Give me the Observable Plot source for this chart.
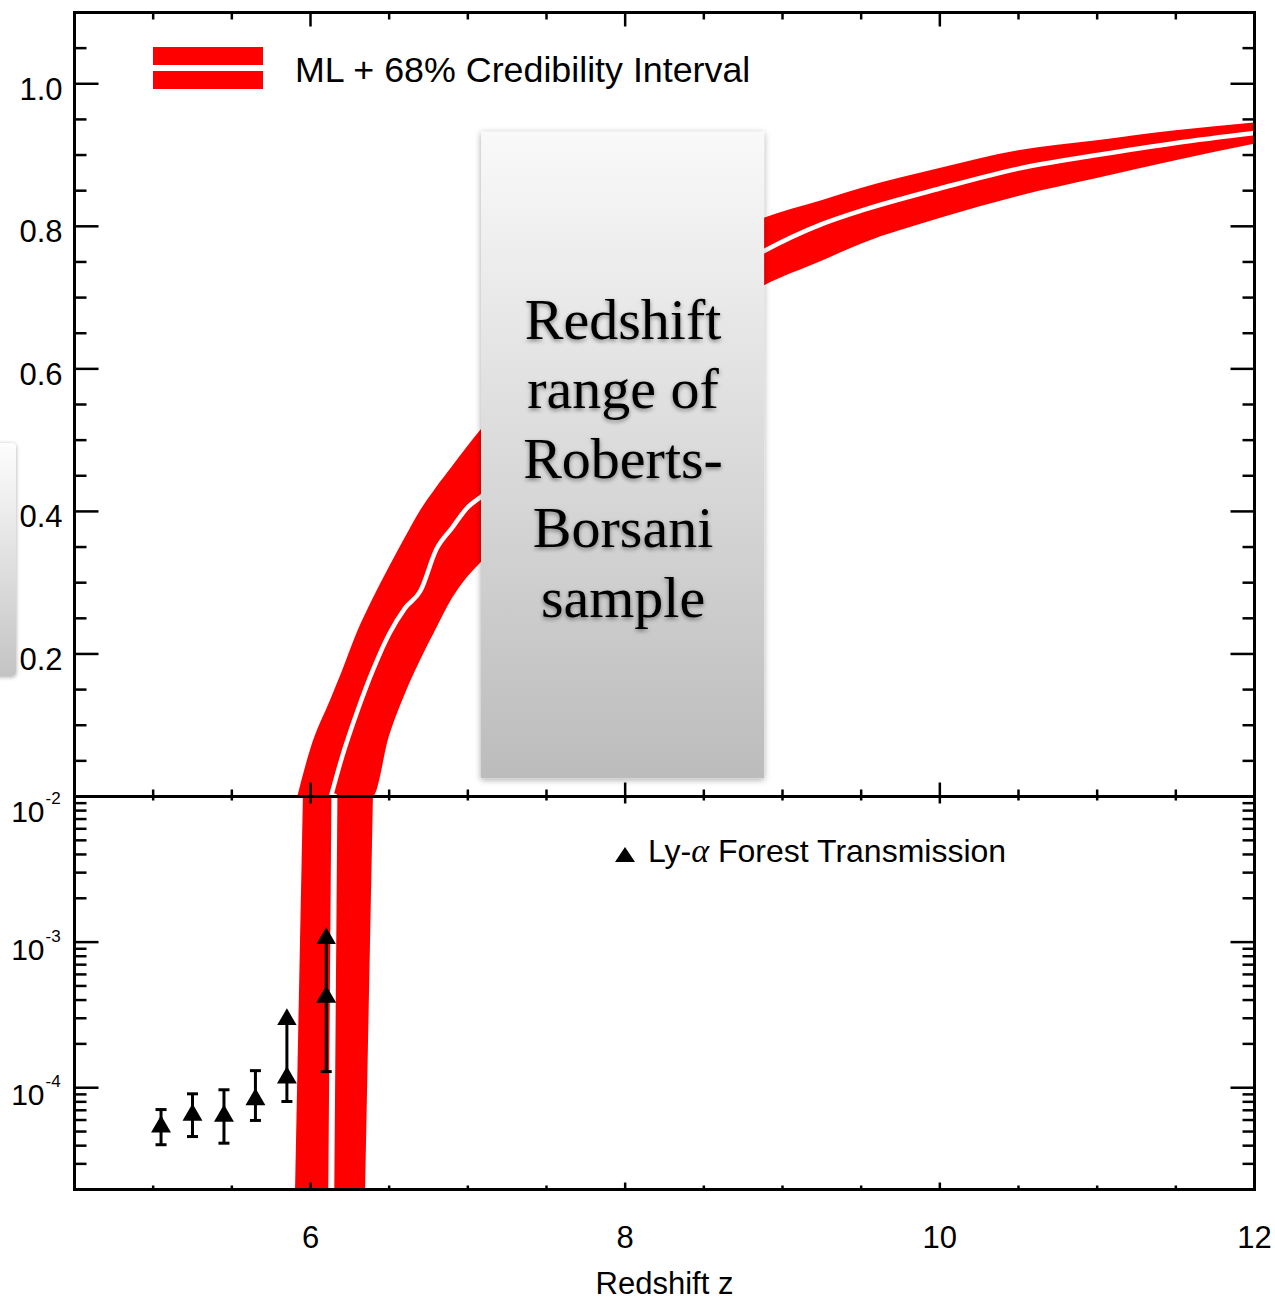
<!DOCTYPE html>
<html>
<head>
<meta charset="utf-8">
<script src="https://cdn.jsdelivr.net/npm/d3@7"></script>
<script src="https://cdn.jsdelivr.net/npm/@observablehq/plot@0.6"></script>
<style>
  html, body { margin: 0; padding: 0; background: #fff; }
  #fig { position: relative; width: 1275px; height: 1299px; overflow: hidden;
         font-family: "Liberation Sans", Arial, Helvetica, sans-serif; }
  #fig svg { position: absolute; left: 0; }
  .edge-card { position: absolute; left: -300px; top: 443px; width: 316px; height: 233px;
               border-radius: 4px; background: linear-gradient(#fdfdfd, #c4c4c4);
               box-shadow: 0 1px 4px rgba(0,0,0,0.35); }
</style>
</head>
<body>
<div id="fig"><div class="edge-card"></div></div>
<script>
// ---- Neutral fraction x_HI(z): maximum likelihood and 68% credibility band (linear panel)
const zGrid    = [5.92, 6.0, 6.13, 6.2, 6.3, 6.4, 6.5, 6.6, 6.7, 6.8, 6.9, 7.0, 7.08, 8.88, 9.25, 9.5, 10, 10.5, 11, 11.5, 12];
const xhiUpper = [0, 0.065, 0.136, 0.174, 0.231, 0.278, 0.321, 0.362, 0.401, 0.433, 0.462, 0.491, 0.513, 0.811, 0.836, 0.853, 0.881, 0.906, 0.920, 0.934, 0.945];
const xhiML    = [null, null, 0, 0.055, 0.121, 0.179, 0.228, 0.264, 0.289, 0.347, 0.377, 0.406, 0.420, 0.765, 0.803, 0.822, 0.853, 0.881, 0.900, 0.917, 0.931];
const xhiLower = [0, 0, 0, 0, 0, 0, 0.083, 0.142, 0.191, 0.235, 0.277, 0.308, 0.327, 0.716, 0.751, 0.775, 0.811, 0.842, 0.867, 0.892, 0.915];

// ---- Same band in the logarithmic panel: redshift of each edge at given x_HI levels
const logLevels  = [1e-2, 2e-5];
const zEdgeUpper = [5.955, 5.905];
const zEdgeML    = [6.152, 6.132];
const zEdgeLower = [6.40, 6.35];

// ---- Ly-alpha forest transmission constraints
const lyaZ       = [5.05, 5.25, 5.45, 5.65, 5.85, 6.10];
const lyaValue   = [5.4e-5, 6.5e-5, 6.4e-5, 8.3e-5, 1.17e-4, 4.2e-4];
const lyaLow     = [4.06e-5, 4.62e-5, 4.16e-5, 5.96e-5, 8.04e-5, 1.29e-4];
const lyaHigh    = [7.08e-5, 9.08e-5, 9.68e-5, 1.31e-4, 2.94e-4, 1.06e-3];
const lyaHighIsArrow = [false, false, false, false, true, true];

// ---- Redshift range of the Roberts-Borsani sample (annotation card)
const cardZ = [7.087, 8.886];
const cardV = [0.025, 0.932];
const cardLabel = "Redshift\nrange of\nRoberts-\nBorsani\nsample";

// ---- Axes
const zDomain   = [4.5, 12];
const linDomain = [0, 1.1];
const logDomain = [2e-5, 1e-2];
const zMajor   = [6, 8, 10, 12];
const zMinor   = [5, 5.5, 6.5, 7, 7.5, 8.5, 9, 9.5, 10.5, 11, 11.5];
const linMajor = [0.2, 0.4, 0.6, 0.8, 1.0];
const linMinor = [0.05, 0.1, 0.15, 0.25, 0.3, 0.35, 0.45, 0.5, 0.55, 0.65, 0.7, 0.75, 0.85, 0.9, 0.95, 1.05];
const logMajor = [1e-4, 1e-3, 1e-2];
const logMinor = [3e-5, 4e-5, 5e-5, 6e-5, 7e-5, 8e-5, 9e-5,
                  2e-4, 3e-4, 4e-4, 5e-4, 6e-4, 7e-4, 8e-4, 9e-4,
                  2e-3, 3e-3, 4e-3, 5e-3, 6e-3, 7e-3, 8e-3, 9e-3];

const xLabel = "Redshift z";
const bandLegend = "ML + 68% Credibility Interval";

// -------------------------------------------------------------------------
const W = 1275;
const sans = '"Liberation Sans", Arial, Helvetica, sans-serif';
const RED = "#ff0000";

// short inward tick drawn as a custom dot symbol
const stub = (dx, dy) => ({draw(ctx) { ctx.moveTo(0, 0); ctx.lineTo(dx, dy); }});
const cap = {draw(ctx) { ctx.moveTo(-5.5, 0); ctx.lineTo(5.5, 0); }};
const tickStyle = {r: 1, fill: "none", stroke: "black", strokeWidth: 2.5};

function yTicks(values, len) {
  return [
    Plot.dot(values, {y: d => d, frameAnchor: "left", symbol: stub(len, 0), ...tickStyle}),
    Plot.dot(values, {y: d => d, frameAnchor: "right", symbol: stub(-len, 0), ...tickStyle})
  ];
}
function xTicks(values, len) {
  return [
    Plot.dot(values, {x: d => d, frameAnchor: "top", symbol: stub(0, len), ...tickStyle}),
    Plot.dot(values, {x: d => d, frameAnchor: "bottom", symbol: stub(0, -len), ...tickStyle})
  ];
}

// ---------------- upper (linear) panel ----------------
const topRows = zGrid.map((z, i) => ({z, upper: xhiUpper[i], ml: xhiML[i], lower: xhiLower[i]}));
const cardRows = [{z1: cardZ[0], z2: cardZ[1], v1: cardV[0], v2: cardV[1], label: cardLabel}];

const topPlot = Plot.plot({
  width: W, height: 797,
  marginTop: 12, marginBottom: 1, marginLeft: 74, marginRight: 21,
  style: {background: "transparent", fontFamily: sans, overflow: "visible"},
  x: {domain: zDomain, axis: null},
  y: {domain: linDomain, axis: null},
  marks: [
    Plot.areaY(topRows, {x: "z", y1: "lower", y2: "upper", fill: RED, curve: "monotone-x"}),
    Plot.line(topRows.filter(d => d.ml != null), {x: "z", y: "ml", stroke: "white", strokeWidth: 4.5, curve: "monotone-x"}),
    Plot.rect(cardRows, {x1: "z1", x2: "z2", y1: "v1", y2: "v2", fill: "url(#cardFill)"}),
    Plot.text(cardRows, {
      x: d => (d.z1 + d.z2) / 2, y: d => (d.v1 + d.v2) / 2, text: "label",
      fontFamily: '"Liberation Serif", "Times New Roman", serif', fontSize: 58,
      lineHeight: 1.2, fill: "black"
    }),
    ...yTicks(linMinor, 12),
    ...yTicks(linMajor, 24),
    ...xTicks(zMinor, 7),
    ...xTicks(zMajor, 14),
    Plot.text(linMajor, {y: d => d, frameAnchor: "left", dx: -12, dy: 6, textAnchor: "end",
                         text: d => d.toFixed(1), fontSize: 31, fill: "black"}),
    Plot.frame({stroke: "black", strokeWidth: 3})
  ]
});
topPlot.style.top = "0px";

// ---------------- lower (logarithmic) panel ----------------
const lowRows = logLevels.map((v, i) => ({v, upper: zEdgeUpper[i], ml: zEdgeML[i], lower: zEdgeLower[i]}));
const lya = lyaZ.map((z, i) => ({z, t: lyaValue[i], lo: lyaLow[i], hi: lyaHigh[i], arrow: lyaHighIsArrow[i]}));
const topDecade = logMajor.filter(v => v === logDomain[1]);
const innerDecades = logMajor.filter(v => v !== logDomain[1]);
const expText = d => String(Math.round(Math.log10(d)));
const mantissa = {frameAnchor: "left", dx: -30, textAnchor: "end", text: () => "10", fontSize: 30, fill: "black"};
const exponent = {frameAnchor: "left", dx: -29, textAnchor: "start", text: expText, fontSize: 17, fill: "black"};

const lowPlot = Plot.plot({
  width: W, height: 513,
  marginTop: 10, marginBottom: 110, marginLeft: 74, marginRight: 21,
  style: {background: "transparent", fontFamily: sans, overflow: "visible"},
  x: {domain: zDomain, axis: null},
  y: {type: "log", domain: logDomain, axis: null},
  marks: [
    Plot.areaX(lowRows, {y: "v", x1: "upper", x2: "lower", fill: RED}),
    Plot.line(lowRows, {y: "v", x: "ml", stroke: "white", strokeWidth: 6}),
    Plot.ruleX(lya, {x: "z", y1: "lo", y2: "hi", stroke: "black", strokeWidth: 3}),
    Plot.dot(lya, {x: "z", y: "lo", symbol: cap, r: 1, fill: "none", stroke: "black", strokeWidth: 3}),
    Plot.dot(lya.filter(d => !d.arrow), {x: "z", y: "hi", symbol: cap, r: 1, fill: "none", stroke: "black", strokeWidth: 3}),
    Plot.dot(lya.filter(d => d.arrow), {x: "z", y: "hi", symbol: "triangle", r: 7.2, fill: "black"}),
    Plot.dot(lya, {x: "z", y: "t", symbol: "triangle", r: 7.4, fill: "black"}),
    ...yTicks(logMinor, 12),
    ...yTicks(logMajor, 24),
    ...xTicks(zMinor, 4),
    ...xTicks(zMajor, 7),
    Plot.text(innerDecades, {y: d => d, dy: 8, ...mantissa}),
    Plot.text(innerDecades, {y: d => d, dy: -6, ...exponent}),
    Plot.text(topDecade, {y: d => d, dy: 16, ...mantissa}),
    Plot.text(topDecade, {y: d => d, dy: 2, ...exponent}),
    Plot.text(zMajor, {x: d => d, frameAnchor: "bottom", dy: 58, text: d => String(d), fontSize: 31, fill: "black"}),
    Plot.text([xLabel], {frameAnchor: "bottom", dy: 104, text: d => d, fontSize: 31, fill: "black"}),
    Plot.frame({stroke: "black", strokeWidth: 3})
  ]
});
lowPlot.style.top = "786px";

const fig = document.getElementById("fig");
fig.appendChild(topPlot);
fig.appendChild(lowPlot);

// ---- card fill, shadows
const st = d3.select(topPlot);
const defs = st.insert("defs", ":first-child");
const grad = defs.append("linearGradient").attr("id", "cardFill")
  .attr("x1", 0).attr("y1", 0).attr("x2", 0).attr("y2", 1);
grad.append("stop").attr("offset", "0%").attr("stop-color", "#f9f9f9");
grad.append("stop").attr("offset", "100%").attr("stop-color", "#bcbcbc");
const cardShadow = defs.append("filter").attr("id", "cardShadow")
  .attr("x", "-10%").attr("y", "-5%").attr("width", "120%").attr("height", "110%");
cardShadow.append("feDropShadow").attr("dx", 0).attr("dy", 1.5).attr("stdDeviation", 3)
  .attr("flood-color", "#000").attr("flood-opacity", 0.35);
const textShadow = defs.append("filter").attr("id", "textShadow")
  .attr("x", "-10%").attr("y", "-10%").attr("width", "120%").attr("height", "120%");
textShadow.append("feDropShadow").attr("dx", 0).attr("dy", 2).attr("stdDeviation", 2.2)
  .attr("flood-color", "#000").attr("flood-opacity", 0.45);
st.select('g[aria-label="rect"]').attr("filter", "url(#cardShadow)");
st.selectAll('g[aria-label="text"]').filter((d, i) => i === 0).attr("filter", "url(#textShadow)");

// ---- legend of the credibility band (upper panel)
const lg = st.append("g").attr("class", "band-legend").attr("text-anchor", "start");
lg.append("rect").attr("x", 153).attr("y", 47).attr("width", 110).attr("height", 18).attr("fill", RED);
lg.append("rect").attr("x", 153).attr("y", 71).attr("width", 110).attr("height", 18).attr("fill", RED);
lg.append("text").attr("x", 295).attr("y", 82).attr("font-size", 35.8).attr("font-family", sans)
  .attr("text-anchor", "start").attr("fill", "black").text(bandLegend);

// ---- legend of the Ly-alpha points (lower panel)
const sl = d3.select(lowPlot);
const ll = sl.append("g").attr("class", "lya-legend").attr("text-anchor", "start");
ll.append("path").attr("d", "M615,76L635,76L625,61Z").attr("fill", "black");
const lt = ll.append("text").attr("x", 648).attr("y", 76).attr("font-size", 32)
  .attr("font-family", sans).attr("text-anchor", "start").attr("fill", "black");
lt.append("tspan").text("Ly-");
lt.append("tspan").attr("font-family", '"Liberation Serif", "DejaVu Serif", serif')
  .attr("font-style", "italic").attr("font-size", 34).text("α");
lt.append("tspan").text(" Forest Transmission");
</script>
</body>
</html>
